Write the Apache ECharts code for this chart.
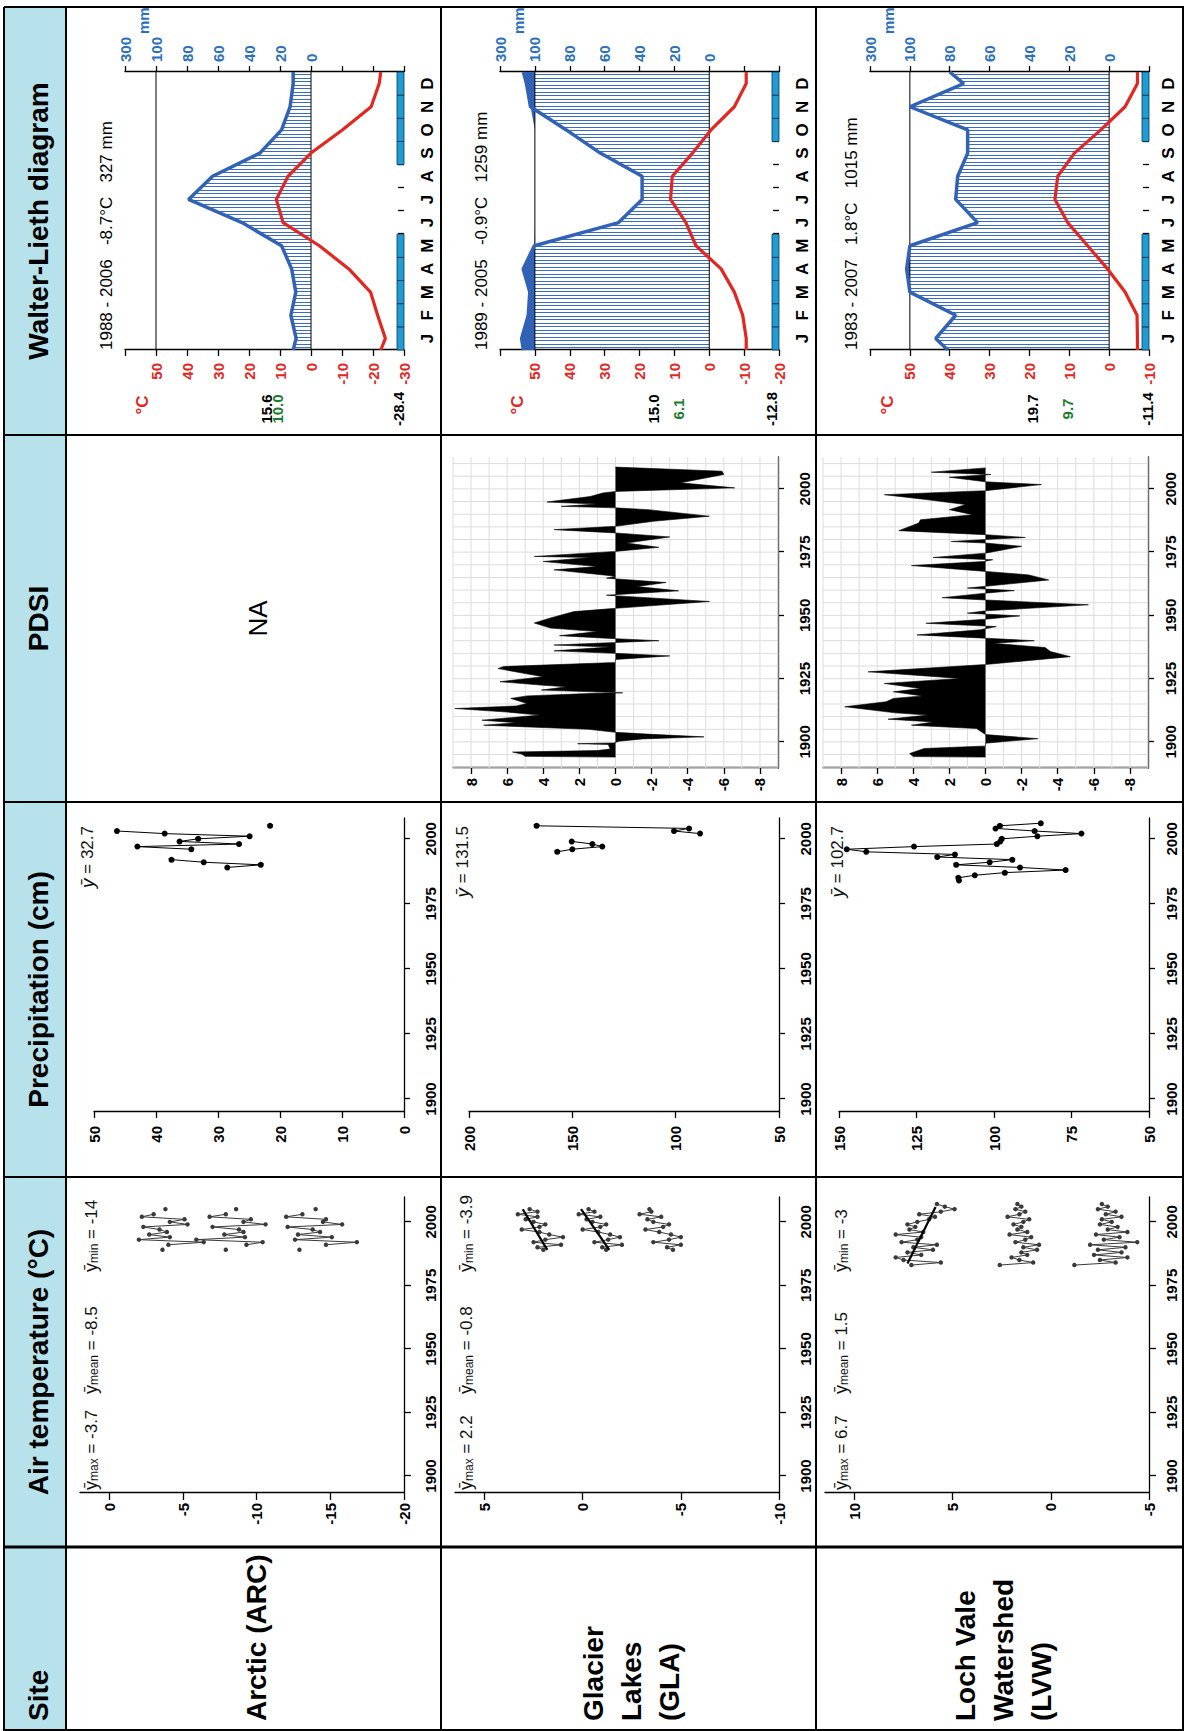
<!DOCTYPE html>
<html><head><meta charset="utf-8">
<script src="https://cdn.jsdelivr.net/npm/echarts@6.0.0/dist/echarts.min.js"></script>
<style>
html,body{margin:0;padding:0;width:1184px;height:1731px;overflow:hidden;background:#fff;}
#chart{position:absolute;left:0;top:0;width:1731px;height:1184px;transform-origin:0 0;transform:rotate(-90deg) translate(-1731px,0);}
</style></head><body><div id="chart"></div>
<script>
// ================= DATA =================
const headers = ['Site', 'Air temperature (°C)', 'Precipitation (cm)', 'PDSI', 'Walter-Lieth diagram'];
const siteNames = [['Arctic (ARC)'], ['Glacier', 'Lakes', '(GLA)'], ['Loch Vale', 'Watershed', '(LVW)']];
const yearTicks = [1900, 1925, 1950, 1975, 2000];

// Air temperature (°C)
const airStatNames = ['max', 'mean', 'min'];
const airStatValues = [['-3.7', '-8.5', '-14'], ['2.2', '-0.8', '-3.9'], ['6.7', '1.5', '-3']];
const airYTicks = [[0, -5, -10, -15, -20], [5, 0, -5, -10], [10, 5, 0, -5]];

const arcAirYears = [1989,1990,1991,1992,1993,1994,1995,1996,1997,1998,1999,2000,2001,2002,2003,2004,2005];
const arcTmax  = [-3.6,null,-4.0,-6.4,-2.0,-4.1,-2.7,-3.9,-3.4,-2.3,-5.3,-4.1,-5.1,-2.2,-3.0,null,-3.8];
const arcTmean = [-7.9,null,-9.3,-10.4,-5.9,-9.2,-7.8,-9.1,-8.8,-7.0,-10.6,-9.1,-9.6,-6.8,-7.9,null,-8.6];
const arcTmin  = [-12.9,null,-14.7,-16.8,-12.6,-15.1,-12.8,-14.3,-13.8,-12.1,-15.8,-14.5,-14.7,-12.0,-13.1,null,-14.0];

const glaAirYears = [1989,1990,1991,1992,1993,1994,1995,1996,1997,1998,1999,2000,2001,2002,2003,2004,2005];
const glaTmax  = [2.0,2.3,1.1,2.5,1.9,1.0,1.7,2.2,3.1,2.2,1.9,2.5,2.9,2.3,3.3,2.3,2.7];
const glaTmean = [-1.2,-1.0,-2.0,-0.6,-1.3,-1.9,-1.4,-0.8,0.0,-0.9,-1.2,-0.5,-0.2,-0.9,0.2,-0.6,-0.3];
const glaTmin  = [-4.6,-4.3,-5.0,-3.6,-4.4,-5.0,-4.5,-3.9,-3.2,-4.1,-4.4,-3.6,-3.3,-4.0,-2.9,-3.5,-3.4];
const glaTrendYears = [1989, 2005];
const glaTmaxTrend  = [1.8, 3.05];
const glaTmeanTrend = [-1.36, 0.08];

const lvwAirYears = [1983,1984,1985,1986,1987,1988,1989,1990,1991,1992,1993,1994,1995,1996,1997,1998,1999,2000,2001,2002,2003,2004,2005,2006,2007];
const lvwTmax  = [7.1,5.6,7.5,7.9,6.6,7.3,6.0,7.0,5.8,7.6,6.8,6.6,7.9,6.5,7.2,6.9,7.3,6.8,6.2,5.9,6.7,5.6,4.9,5.4,5.8];
const lvwTmean = [2.6,0.9,1.6,2.0,1.2,1.5,0.7,1.4,0.6,1.8,1.3,1.0,2.1,1.2,1.7,1.5,1.9,1.4,1.1,2.2,1.6,1.3,1.8,1.5,1.7];
const lvwTmin  = [-1.2,-3.3,-2.5,-3.9,-2.2,-3.6,-2.4,-3.8,-2.0,-4.4,-2.7,-3.5,-2.3,-3.9,-2.9,-3.4,-2.5,-3.1,-2.6,-3.6,-2.8,-3.3,-2.4,-2.9,-2.6];
const lvwTrendYears = [1983.6, 2005.9];
const lvwTmaxTrend  = [7.3, 5.87];

// Precipitation (cm)
const precipMeans = ['32.7', '131.5', '102.7'];
const precipYTicks = [[0, 10, 20, 30, 40, 50], [50, 100, 150, 200], [50, 75, 100, 125, 150]];
const arcPrecipYears = [1989,1990,1991,1992,1993,1994,1995,1996,1997,1998,1999,2000,2001,2002,2003,2004,2005];
const arcPrecip = [28.5,23.1,32.3,37.5,null,null,null,34.3,43.0,26.6,36.2,33.2,24.9,38.6,46.3,null,21.6];
const glaPrecipYears = [1995,1996,1997,1998,1999,2000,2001,2002,2003,2004,2005];
const glaPrecip = [157.3,150.0,135.5,140.3,150.3,null,null,88.2,100.8,93.5,167.3];
const lvwPrecipYears = [1984,1985,1986,1987,1988,1989,1990,1991,1992,1993,1994,1995,1996,1997,1998,1999,2000,2001,2002,2003,2004,2005,2006];
const lvwPrecip = [111.3,111.5,106.2,96.5,76.9,91.6,112.2,101.4,94.1,118.3,112.6,141.2,147.5,125.8,99.1,98.0,97.5,86.0,71.8,86.9,99.5,98.1,84.9];

// PDSI
const pdsiTicks = [8, 6, 4, 2, 0, -2, -4, -6, -8];
const pdsiGridYears = [1890,1895,1900,1905,1910,1915,1920,1925,1930,1935,1940,1945,1950,1955,1960,1965,1970,1975,1980,1985,1990,1995,2000,2005,2010];
const pdsiGridValues = [-9,-8,-7,-6,-5,-4,-3,-2,-1,0,1,2,3,4,5,6,7,8,9];
const glaPdsiYears = [1894.0,1894.3,1895.2,1896.0,1896.6,1897.2,1899.0,1899.3,1899.6,1900.3,1901.2,1902.0,1903.0,1903.8,1905.0,1906.6,1907.6,1908.6,1910.6,1911.8,1913.2,1914.2,1915.2,1917.2,1918.2,1919.2,1919.4,1920.5,1921.8,1922.4,1923.8,1925.8,1927.0,1929.0,1929.8,1931.4,1932.6,1934.0,1935.0,1936.0,1937.5,1938.3,1939.3,1940.0,1940.8,1942.0,1943.6,1945.0,1947.0,1949.0,1951.5,1952.8,1955.5,1957.5,1958.0,1959.7,1961.4,1963.0,1964.7,1965.5,1968.0,1969.3,1971.3,1972.9,1973.3,1975.3,1976.9,1978.6,1981.0,1982.6,1983.9,1985.2,1987.2,1989.2,1991.8,1992.5,1993.1,1994.0,1994.8,1997.0,1998.4,1999.0,2000.4,2002.4,2005.7,2007.0,2008.6];
const glaPdsi = [0,5.0,5.2,5.7,1.0,0.3,0.4,2.1,0.1,-0.2,-1.5,-4.9,-2.0,0,1.5,7.3,5.5,7.4,4.2,6.0,8.9,5.5,4.9,5.8,4.9,1.2,-0.4,4.1,2.7,4.0,6.4,4.0,5.0,6.5,6.2,0,0,-3.0,0,3.4,0.3,3.4,0,-2.4,0,3.1,1.0,3.6,4.5,3.6,2.3,0,-5.2,-0.6,0.5,-3.5,-1.2,-2.8,0.5,0,3.4,1.0,4.0,1.4,4.5,0,-2.4,-0.6,-3.0,0,3.4,0,-2.1,-5.2,-1.8,0,3.0,1.0,3.8,1.4,0.7,0,-6.6,-3.6,-6.0,-5.9,0];
const lvwPdsiYears = [1894.0,1894.2,1895.4,1897.4,1898.4,1899.5,1901.3,1902.9,1905.3,1906.6,1907.9,1909.0,1910.6,1911.5,1913.9,1915.9,1917.2,1918.2,1919.8,1921.1,1923.1,1925.1,1927.7,1930.6,1933.7,1935.7,1937.3,1939.0,1940.0,1941.0,1942.3,1944.3,1945.6,1946.9,1948.5,1949.8,1950.9,1951.8,1954.2,1956.1,1957.0,1958.8,1959.8,1960.8,1961.5,1964.0,1966.0,1967.4,1969.7,1971.3,1972.0,1972.9,1974.6,1977.3,1978.6,1979.2,1980.0,1980.8,1981.9,1983.5,1986.5,1987.8,1989.8,1991.8,1993.8,1995.8,1997.7,1999.3,2001.7,2002.8,2004.6,2005.7,2006.6,2008.3];
const lvwPdsi = [0,4.0,4.2,3.4,0,0,-2.9,0,0.5,4.1,2.9,5.4,3.2,5.0,7.8,5.5,5.1,3.5,5.1,3.6,5.6,1.4,6.5,0,-4.7,-3.6,-3.3,-0.4,-2.7,0,3.8,0.3,-0.6,3.3,0,-1.9,1.0,0,-5.7,0,2.4,0,-1.6,1.0,0,-3.5,-2.4,0,4.1,0.1,-0.4,2.9,0,-2.0,0,1.9,0,-2.2,0,4.8,3.7,3.6,0.7,2.0,1.1,3.3,5.6,0,-3.1,0,2.0,-0.3,3.0,0];

// Walter-Lieth diagrams (values at plot edge, Jan..Dec centres, plot edge)
const months = ['J','F','M','A','M','J','J','A','S','O','N','D'];
const monthBoundaries = [1,2,3,4,5,6,7,8,9,10,11];
const monthCentres = [0.5,1.5,2.5,3.5,4.5,5.5,6.5,7.5,8.5,9.5,10.5,11.5];
const wlPositions = [0,0.5,1.5,2.5,3.5,4.5,5.5,6.5,7.5,8.5,9.5,10.5,11.5,12];
const wlTitles = ['1988 - 2006   -8.7°C   327 mm', '1989 - 2005   -0.9°C   1259 mm', '1983 - 2007   1.8°C   1015 mm'];
const arcWlTemp   = [-22.5,-24.0,-21.5,-19.2,-12.2,-2.7,9.0,11.2,7.4,0.0,-10.1,-19.4,-22.0,-22.5];
const arcWlPrecip = [11.5,9.6,13.0,9.8,12.5,19.0,44.5,79.0,63.5,33.0,19.0,13.5,11.5,11.5];
const glaWlTemp   = [-10.6,-10.6,-9.6,-7.2,-3.4,3.8,6.7,11.1,10.6,4.8,-0.5,-7.2,-10.6,-10.6];
const glaWlPrecip = [166,176,138,129,167,103,52,38.5,38.5,62.5,82,125,148,166];
const lvwWlTemp   = [-7.1,-7.1,-7.0,-4.0,0.4,5.4,10.4,13.6,12.9,8.7,2.1,-4.0,-7.1,-7.1];
const lvwWlPrecip = [81,87,77,100,116,100,66,77,76,71,71,100,73,80];
const arcFrost = [1,1,1,1,1,0,0,0,1,1,1,1];
const glaFrost = [1,1,1,1,1,0,0,0,0,1,1,1];
const lvwFrost = [1,1,1,1,1,0,0,0,0,1,1,1];
const wlTempTicks = [[-30,-20,-10,0,10,20,30,40,50,60],[-20,-10,0,10,20,30,40,50,60],[-10,0,10,20,30,40,50,60]];
const wlTempLabels = [[-30,-20,-10,0,10,20,30,40,50],[-20,-10,0,10,20,30,40,50],[-10,0,10,20,30,40,50]];
const wlPrecipTickPos = [0,10,20,30,40,50,60];
const wlPrecipLabels = ['0','20','40','60','80','100','300'];
const wlRefLines = [0, 50];
const wlSideLabels = [[['15.6','#000'],['10.0','#1e7b2e'],['-28.4','#000']],
                      [['15.0','#000'],['6.1','#1e7b2e'],['-12.8','#000']],
                      [['19.7','#000'],['9.7','#1e7b2e'],['-11.4','#000']]];

// ================= LAYOUT (unrotated frame 1731 x 1184) =================
const FONT = '"Liberation Sans", Arial, Helvetica, sans-serif';
const ROWS = [66, 441, 816];
const ROW_SHIFT = [0, 0, -5];           // last row sits slightly higher so bottom labels stay inside
const BOTTOM_MARGIN = [19, 19, 15];     // year-label distance
const MONTH_MARGIN = [15, 15, 11];
const ROW_BOTTOM = 1184;
const COLS = [0, 184, 554, 929, 1296, 1724];
const airYRange = [[-20, 2], [-10, 6.5], [-5, 11.5]];
const precipYRange = [[0, 50], [50, 200], [50, 150]];
const wlSideOffsets = [[200, 211, 332], [212, 237, 330], [221, 256, 336]];
const RED = '#e3261f', BLUE = '#3262b6', LBLUE = '#2c6fbd';

const option = {animation: false, backgroundColor: '#ffffff', textStyle: {fontFamily: FONT},
  grid: [], xAxis: [], yAxis: [], series: [], graphic: {elements: []}};
const G = option.graphic.elements;
function addGrid(g) { option.grid.push(Object.assign({outerBoundsMode: 'none', containLabel: false, show: false}, g)); return option.grid.length - 1; }
function addX(a) { option.xAxis.push(a); return option.xAxis.length - 1; }
function addY(a) { option.yAxis.push(a); return option.yAxis.length - 1; }
function axis(gridIndex, min, max, ticks, labels, o) {
  o = o || {};
  return {gridIndex, type: 'value', min, max, position: o.position,
    axisLine: {show: o.line !== false, onZero: false, lineStyle: {color: '#000', width: 1.3}},
    axisTick: {show: true, inside: !!o.inside, length: o.tickLen || 6, customValues: ticks, lineStyle: {color: '#000', width: 1.3}},
    axisLabel: {show: true, customValues: labels, margin: o.margin || 8, color: o.color || '#000', fontFamily: FONT,
      fontSize: o.fontSize || 15, fontWeight: 'bold', formatter: o.formatter || (v => String(v))},
    splitLine: {show: false}, splitArea: {show: false}};
}
function text(x, y, t, o) {
  o = o || {};
  G.push({type: 'text', x, y, z: 10, silent: true, style: Object.assign({text: t, fill: o.fill || '#000',
    fontFamily: FONT, fontSize: o.size || 15, fontWeight: o.weight || 'normal', fontStyle: o.style || 'normal',
    align: o.align || 'left', verticalAlign: 'middle', textAlign: o.align || 'left', textVerticalAlign: 'middle'}, o.extra || {})});
}
function hline(y, x1, x2, w) { G.push({type: 'line', silent: true, z: 9, shape: {x1, y1: y, x2, y2: y}, style: {stroke: '#000', lineWidth: w}}); }
function vline(x, y1, y2, w) { G.push({type: 'line', silent: true, z: 9, shape: {x1: x, y1, x2: x, y2}, style: {stroke: '#000', lineWidth: w}}); }

// ---- table ----
G.push({type: 'rect', silent: true, z: 0, shape: {x: 0, y: 4, width: COLS[5], height: ROWS[0] - 4}, style: {fill: '#b8e2eb'}});
hline(4, 0, COLS[5], 2);
ROWS.forEach(v => hline(v, 0, COLS[5], 2));
hline(ROW_BOTTOM - 1, 0, COLS[5], 2);
vline(1, 4, ROW_BOTTOM, 2);
COLS.slice(1).forEach((u, i) => vline(u, 4, ROW_BOTTOM, i === 0 ? 3 : 2));
headers.forEach((h, i) => {
  if (i === 0) text(10, 38, h, {size: 28, weight: 'bold'});
  else text((COLS[i] + COLS[i + 1]) / 2, 38, h, {size: 28, weight: 'bold', align: 'center'});
});
siteNames.forEach((lines, r) => {
  const bottom = r < 2 ? ROWS[r + 1] : ROW_BOTTOM;
  const c = (ROWS[r] + bottom) / 2 + 3;
  lines.forEach((l, k) => text(10, c + (k - (lines.length - 1) / 2) * 38, l, {size: 28, weight: 'bold'}));
});

// ---- air temperature ----
const airData = [
  {years: arcAirYears, series: [arcTmax, arcTmean, arcTmin], trends: []},
  {years: glaAirYears, series: [glaTmax, glaTmean, glaTmin], trends: [[glaTrendYears, glaTmaxTrend], [glaTrendYears, glaTmeanTrend]]},
  {years: lvwAirYears, series: [lvwTmax, lvwTmean, lvwTmin], trends: [[lvwTrendYears, lvwTmaxTrend]]}
];
const annU = [241, 337, 459];
ROWS.forEach((T0, r) => {
  const T = T0 + ROW_SHIFT[r];
  const gi = addGrid({left: 238, top: T + 14, width: 296, height: 324});
  const xi = addX(axis(gi, 1893.3, 2009.8, yearTicks, yearTicks, {margin: BOTTOM_MARGIN[r], tickLen: 7}));
  const yi = addY(axis(gi, airYRange[r][0], airYRange[r][1], airYTicks[r], airYTicks[r], {margin: 10, tickLen: 7}));
  const d = airData[r];
  d.series.forEach(vals => option.series.push({type: 'line', xAxisIndex: xi, yAxisIndex: yi, silent: true, z: 3,
    data: d.years.map((y, i) => [y, vals[i]]), symbol: 'circle', symbolSize: 4.5,
    lineStyle: {color: '#3a3a3a', width: 1}, itemStyle: {color: '#3a3a3a'}}));
  d.trends.forEach(([ty, tv]) => option.series.push({type: 'line', xAxisIndex: xi, yAxisIndex: yi, silent: true, z: 4,
    data: ty.map((y, i) => [y, tv[i]]), symbol: 'none', lineStyle: {color: '#000', width: 2.2}}));
  airStatNames.forEach((n, k) => {
    text(annU[k], T0 + 25, `{a|ȳ}{b|${n}}{c| = ${airStatValues[r][k]}}`, {extra: {rich: {
      a: {fontSize: 18, fontFamily: FONT, fill: '#111', verticalAlign: 'middle'},
      b: {fontSize: 12, fontFamily: FONT, fill: '#111', verticalAlign: 'bottom'},
      c: {fontSize: 17, fontFamily: FONT, fill: '#111', verticalAlign: 'middle'}}}});
  });
});

// ---- precipitation ----
const precipData = [[arcPrecipYears, arcPrecip], [glaPrecipYears, glaPrecip], [lvwPrecipYears, lvwPrecip]];
ROWS.forEach((T0, r) => {
  const T = T0 + ROW_SHIFT[r];
  const gi = addGrid({left: 619, top: T + 28, width: 294, height: 310});
  const xi = addX(axis(gi, 1895, 2008, yearTicks, yearTicks, {margin: BOTTOM_MARGIN[r], tickLen: 6}));
  const yi = addY(axis(gi, precipYRange[r][0], precipYRange[r][1], precipYTicks[r], precipYTicks[r], {margin: 14, tickLen: 6}));
  const [ys, vs] = precipData[r];
  option.series.push({type: 'line', xAxisIndex: xi, yAxisIndex: yi, silent: true, z: 3,
    data: ys.map((y, i) => [y, vs[i]]), symbol: 'circle', symbolSize: 6,
    lineStyle: {color: '#000', width: 1}, itemStyle: {color: '#000'}});
  text(905, T0 + 21, `{a|ȳ}{c| = ${precipMeans[r]}}`, {align: 'right', extra: {rich: {
    a: {fontSize: 19, fontFamily: FONT, fontStyle: 'italic', fill: '#111'},
    c: {fontSize: 17, fontFamily: FONT, fill: '#111'}}}});
});

// ---- PDSI ----
text((COLS[3] + COLS[4]) / 2, 258, 'NA', {size: 26, align: 'center'});
const pdsiData = [null, [glaPdsiYears, glaPdsi], [lvwPdsiYears, lvwPdsi]];
ROWS.forEach((T0, r) => {
  if (!pdsiData[r]) return;
  const T = T0 + ROW_SHIFT[r];
  const gi = addGrid({left: 963, top: T + 12, width: 311, height: 325});
  const xi = addX(axis(gi, 1889.7, 2012.6, yearTicks, yearTicks, {margin: BOTTOM_MARGIN[r], tickLen: 6}));
  const yi = addY(axis(gi, -9, 9, pdsiTicks, pdsiTicks, {margin: 10, tickLen: 6}));
  const gridItems = pdsiGridYears.map(y => [y, 0, 0]).concat(pdsiGridValues.map(v => [1950, v, 1]));
  option.series.push({type: 'custom', xAxisIndex: xi, yAxisIndex: yi, silent: true, z: 1, clip: false,
    data: gridItems,
    renderItem(params, api) {
      const cs = params.coordSys;
      if (api.value(2) === 0) {
        const x = api.coord([api.value(0), 0])[0];
        return {type: 'line', shape: {x1: x, y1: cs.y, x2: x, y2: cs.y + cs.height}, style: {stroke: '#dddddd', lineWidth: 1}};
      }
      const y = api.coord([1950, api.value(1)])[1];
      return {type: 'line', shape: {x1: cs.x, y1: y, x2: cs.x + cs.width, y2: y}, style: {stroke: '#dddddd', lineWidth: 1}};
    }});
  const [ys, vs] = pdsiData[r];
  option.series.push({type: 'line', xAxisIndex: xi, yAxisIndex: yi, silent: true, z: 3,
    data: ys.map((y, i) => [y, vs[i]]), symbol: 'none',
    lineStyle: {color: '#000', width: 0.6}, areaStyle: {color: '#000', opacity: 1, origin: 0}});
});

// ---- Walter-Lieth ----
const hatch = document.createElement('canvas'); hatch.width = 7; hatch.height = 7;
const hctx = hatch.getContext('2d'); hctx.fillStyle = '#3a6cc4'; hctx.fillRect(0, 0, 1, 7); hctx.fillRect(4, 0, 1, 7);
const hatchFill = {image: hatch.toDataURL(), repeat: 'repeat', imageWidth: 7, imageHeight: 7};
const wlData = [[arcWlTemp, arcWlPrecip, arcFrost], [glaWlTemp, glaWlPrecip, glaFrost], [lvwWlTemp, lvwWlPrecip, lvwFrost]];
const precipToScale = p => (p <= 100 ? p / 2 : 50 + (p - 100) / 20);
ROWS.forEach((T0, r) => {
  const T = T0 + ROW_SHIFT[r];
  const ticks = wlTempTicks[r];
  const ymin = ticks[0];
  const gi = addGrid({left: 1381, top: T + 59, width: 278, height: 279});
  const xAx = axis(gi, 0, 12, monthBoundaries, monthCentres, {line: false, inside: true, tickLen: 6, margin: MONTH_MARGIN[r], fontSize: 17,
    formatter: v => months[Math.floor(v)]});
  const xi = addX(xAx);
  const yi = addY(axis(gi, ymin, 60, ticks, wlTempLabels[r], {position: 'left', margin: 13, tickLen: 6, color: RED}));
  const yr = addY(axis(gi, ymin, 60, ticks, wlPrecipTickPos, {position: 'right', margin: 10, tickLen: 6, color: LBLUE,
    formatter: v => wlPrecipLabels[wlPrecipTickPos.indexOf(v)]}));
  const [tv, pv, fr] = wlData[r];
  const pScaled = wlPositions.map((x, i) => [x, precipToScale(pv[i])]);
  option.series.push({type: 'line', xAxisIndex: xi, yAxisIndex: yi, silent: true, z: 1, symbol: 'none',
    data: pScaled, lineStyle: {width: 0}, areaStyle: {color: hatchFill, opacity: 1, origin: 0}});
  option.series.push({type: 'line', xAxisIndex: xi, yAxisIndex: yi, silent: true, z: 2, symbol: 'none',
    data: pScaled.map(([x, y]) => [x, Math.max(y, 50)]), lineStyle: {width: 0}, areaStyle: {color: BLUE, opacity: 1, origin: 50}});
  option.series.push({type: 'custom', xAxisIndex: xi, yAxisIndex: yi, silent: true, z: 3,
    data: wlRefLines.map(v => [0, v]),
    renderItem(params, api) {
      const cs = params.coordSys; const y = api.coord([0, api.value(1)])[1];
      return {type: 'line', shape: {x1: cs.x, y1: y, x2: cs.x + cs.width, y2: y}, style: {stroke: '#000', lineWidth: 1}};
    }});
  option.series.push({type: 'line', xAxisIndex: xi, yAxisIndex: yi, silent: true, z: 4, symbol: 'none',
    data: pScaled, lineStyle: {color: BLUE, width: 3.5}});
  option.series.push({type: 'line', xAxisIndex: xi, yAxisIndex: yi, silent: true, z: 5, symbol: 'none',
    data: wlPositions.map((x, i) => [x, tv[i]]), lineStyle: {color: RED, width: 3.2}});
  option.series.push({type: 'custom', xAxisIndex: xi, yAxisIndex: yi, silent: true, z: 6,
    data: fr.map((f, i) => [i, f]).filter(d => d[1] === 1),
    renderItem(params, api) {
      const i = api.value(0);
      const p0 = api.coord([i, ymin]); const p1 = api.coord([i + 1, ymin]);
      return {type: 'rect', shape: {x: p0[0], y: p0[1] - 7, width: p1[0] - p0[0], height: 7},
        style: {fill: '#1f9cd4', stroke: '#0c3556', lineWidth: 0.8}};
    }});
  text(1381, T + 40, wlTitles[r], {size: 17});
  text(1326, T + 76, '°C', {size: 17, weight: 'bold', fill: RED, align: 'center'});
  text(1697, T + 77, 'mm', {size: 15, weight: 'bold', fill: LBLUE});
  wlSideLabels[r].forEach(([t, c], k) => text(1322, T + wlSideOffsets[r][k], t, {size: 15, weight: 'bold', fill: c, align: 'center'}));
});

const chart = echarts.init(document.getElementById('chart'), null, {renderer: 'svg', width: 1731, height: 1184});
chart.setOption(option);
</script></body></html>
